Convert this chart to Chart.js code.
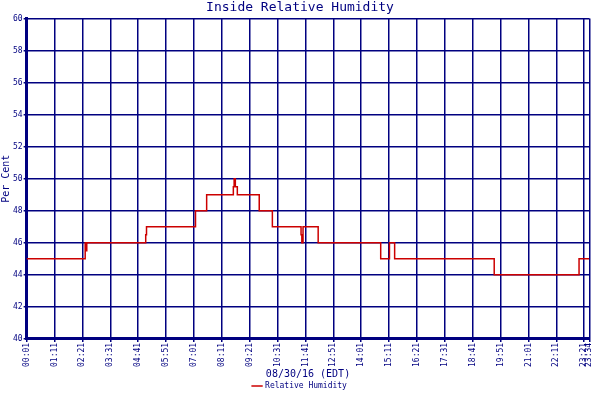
<!DOCTYPE html>
<html><head><meta charset="utf-8">
<script src="https://cdn.jsdelivr.net/npm/chart.js@4/dist/chart.umd.min.js"></script>
<style>body{margin:0;background:#fff}#wrap{width:600px;height:400px}</style>
</head><body><div id="wrap"><canvas id="c"></canvas></div>
<script>
// minutes since midnight where the reading changes, and the reading from there on
const times  = [1, 148, 150, 152, 300, 302, 304, 425, 453, 520, 522, 525, 530, 532, 585, 618, 690, 692, 695, 733, 890, 912, 918, 925, 1175, 1177, 1388, 1414];
const values = [45, 46, 45.5, 46, 46.5, 47, 47, 48, 49, 49.5, 50, 49.5, 49, 49, 48, 47, 46.5, 46, 47, 46, 45, 46, 46, 45, 44, 44, 45, 45];
const xTicks = [1, 71, 141, 211, 281, 351, 421, 491, 561, 631, 701, 771, 841, 911, 981, 1051, 1121, 1191, 1261, 1331, 1401, 1414];
const yMin = 40, yMax = 60, yStep = 2;

const navy = '#000080';
const font = { family: 'DejaVu Sans Mono', size: 8 };
const fmt = m => String(Math.floor(m / 60)).padStart(2, '0') + ':' + String(m % 60).padStart(2, '0');

new Chart(document.getElementById('c'), {
  type: 'line',
  data: {
    datasets: [{
      label: 'Relative Humidity',
      data: times.map((t, i) => ({ x: t, y: values[i] })),
      stepped: 'before',
      borderColor: '#cc0000',
      backgroundColor: '#cc0000',
      borderWidth: 1.5,
      pointRadius: 0
    }]
  },
  options: {
    responsive: true,
    maintainAspectRatio: false,
    animation: false,
    layout: { padding: { right: 0, left: 0, bottom: 0 } },
    scales: {
      x: {
        type: 'linear', min: 1, max: 1414,
        afterBuildTicks: a => { a.ticks = xTicks.map(v => ({ value: v })); },
        grid: { color: navy, lineWidth: 1.5, tickLength: 3 },
        border: { color: navy, width: 3 },
        ticks: { color: navy, font, maxRotation: 90, minRotation: 90, autoSkip: false, padding: 1, callback: v => fmt(v) },
        title: { display: true, text: '08/30/16 (EDT)', color: navy, font: { family: 'DejaVu Sans Mono', size: 10 }, padding: 0 }
      },
      y: {
        min: yMin, max: yMax,
        grid: { color: navy, lineWidth: 1.5, tickLength: 3 },
        border: { color: navy, width: 3 },
        ticks: { stepSize: yStep, color: navy, font, padding: 1 },
        title: { display: true, text: 'Per Cent', color: navy, font: { family: 'DejaVu Sans Mono', size: 10 }, padding: 0 }
      }
    },
    plugins: {
      title: { display: true, text: 'Inside Relative Humidity', color: navy, font: { family: 'DejaVu Sans Mono', size: 13, weight: 'normal' }, padding: { top: 0, bottom: 3 } },
      legend: {
        position: 'bottom',
        labels: { color: navy, font, usePointStyle: true, pointStyle: 'line', boxWidth: 14, padding: 2 }
      },
      tooltip: { enabled: false }
    }
  }
});
</script></body></html>
